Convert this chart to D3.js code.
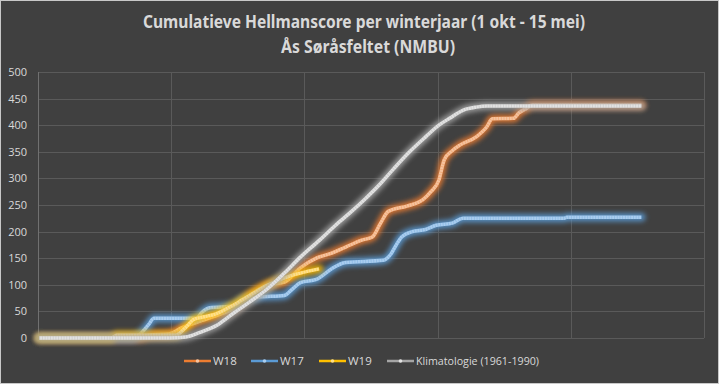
<!DOCTYPE html>
<html>
<head>
<meta charset="utf-8">
<title>Cumulatieve Hellmanscore</title>
<script src="https://cdn.jsdelivr.net/npm/d3@7"></script>
<style>
  body { margin: 0; background: #404040; }
  svg { display: block; }
</style>
</head>
<body>
<div id="chart"></div>
<script>
// day index (0 = 1 okt) and cumulative Hellman score
var w18Days = [0, 38, 41, 49, 53, 56, 61, 68, 74, 79, 82, 86, 92, 98, 104, 110, 115, 121, 125, 128, 131, 138, 144, 147, 150, 152, 155, 158, 164, 168, 170, 178, 180, 183, 185, 226];
var w18Vals = [0, 0, 5, 8, 18, 24, 33, 45, 58, 80, 90, 100, 105, 132, 150, 160, 171, 184, 190, 215, 238, 248, 260, 275, 297, 335, 352, 363, 378, 397, 412, 413, 423, 432, 438, 438];

var w17Days = [0, 35, 38, 41, 43, 59, 61, 64, 73, 76, 82, 92, 95, 98, 104, 107, 110, 115, 129, 132, 134, 136, 140, 145, 149, 155, 159, 197, 198, 226];
var w17Vals = [0, 0, 8, 25, 37, 37, 48, 57, 60, 72, 77, 80, 92, 104, 110, 120, 131, 142, 146, 158, 175, 190, 200, 204, 212, 216, 225, 225, 227, 227];

var w19Days = [0, 27, 29, 51, 55, 58, 62, 66, 73, 79, 86, 92, 98, 105];
var w19Vals = [0, 0, 5, 5, 20, 35, 40, 45, 62, 80, 100, 113, 122, 130];

var klimDays = [0, 49, 55, 60, 67, 73, 79, 86, 92, 98, 105, 111, 117, 122, 128, 133, 139, 145, 150, 154, 159, 164, 168, 226];
var klimVals = [0, 0, 2, 10, 25, 47, 68, 94, 122, 152, 183, 211, 237, 260, 290, 318, 350, 378, 400, 413, 428, 434, 436, 436];

var seriesNames = ["W18", "W17", "W19", "Klimatologie (1961-1990)"];
var seriesColors = ["#ed7d31", "#5b9bd5", "#ffc000", "#a5a5a5"];
var seriesCores = ["#f6c39e", "#a9cdef", "#ffe08a", "#e2e2e2"];
var yTicks = [0, 50, 100, 150, 200, 250, 300, 350, 400, 450, 500];
var xTicks = [0, 50, 100, 150, 200, 250];

var width = 719, height = 384;
var plotL = 38, plotR = 704, plotT = 72, plotB = 338;

var svg = d3.select("#chart").append("svg")
    .attr("width", width)
    .attr("height", height);

var defs = svg.append("defs");
defs.append("filter")
    .attr("id", "glow")
    .attr("x", "-20%").attr("y", "-20%")
    .attr("width", "140%").attr("height", "140%")
  .append("feGaussianBlur")
    .attr("stdDeviation", 2.4);

// background + thin border
svg.append("rect")
    .attr("x", 0.5).attr("y", 0.5)
    .attr("width", width - 1).attr("height", height - 1)
    .style("fill", "#404040")
    .style("stroke", "#c8c8c8")
    .style("stroke-width", 1);

// title
var titleFont = "'Noto Sans', 'DejaVu Sans', sans-serif";
svg.append("text")
    .attr("x", 364).attr("y", 28)
    .attr("text-anchor", "middle")
    .attr("textLength", 442)
    .attr("lengthAdjust", "spacingAndGlyphs")
    .style("font-family", titleFont)
    .style("font-weight", "bold")
    .style("font-size", "17px")
    .style("fill", "#d9d9d9")
    .text("Cumulatieve Hellmanscore per winterjaar (1 okt - 15 mei)");
svg.append("text")
    .attr("x", 368).attr("y", 53)
    .attr("text-anchor", "middle")
    .attr("textLength", 174)
    .attr("lengthAdjust", "spacingAndGlyphs")
    .style("font-family", titleFont)
    .style("font-weight", "bold")
    .style("font-size", "17px")
    .style("fill", "#d9d9d9")
    .text("Ås Søråsfeltet (NMBU)");

var xScale = d3.scaleLinear().domain([0, 250]).range([plotL, plotR]);
var yScale = d3.scaleLinear().domain([0, 500]).range([plotB, plotT]);

// horizontal gridlines + y labels
var yAxis = svg.append("g")
    .attr("transform", "translate(" + plotL + ",0)")
    .call(d3.axisLeft(yScale).tickValues(yTicks).tickSize(-(plotR - plotL)).tickPadding(11));
yAxis.select(".domain").remove();
yAxis.selectAll("line").style("stroke", "#5a5a5a").attr("shape-rendering", "crispEdges");
yAxis.selectAll("text")
    .style("font-family", "'Open Sans', sans-serif")
    .style("font-size", "11px")
    .style("fill", "#d9d9d9");

// vertical gridlines, no labels
var xAxis = svg.append("g")
    .attr("transform", "translate(0," + plotB + ")")
    .call(d3.axisBottom(xScale).tickValues(xTicks).tickSize(-(plotB - plotT)).tickFormat(""));
xAxis.select(".domain").remove();
xAxis.selectAll("line").style("stroke", "#5a5a5a").attr("shape-rendering", "crispEdges");
xAxis.select(".tick line").style("stroke", "#707070");

var line = d3.line()
    .x(function(d) { return xScale(d[0] + 0.5); })
    .y(function(d) { return yScale(d[1]); })
    .curve(d3.curveMonotoneX);

var allDays = [w18Days, w17Days, w19Days, klimDays];
var allVals = [w18Vals, w17Vals, w19Vals, klimVals];

for (var i = 0; i < 4; i++) {
  var pts = d3.zip(allDays[i], allVals[i]);
  var g = svg.append("g").attr("class", "series");
  g.append("path")
      .attr("d", line(pts))
      .attr("filter", "url(#glow)")
      .style("fill", "none")
      .style("stroke", seriesColors[i])
      .style("stroke-width", 8.5)
      .style("stroke-linecap", "round")
      .style("stroke-linejoin", "round")
      .style("opacity", 0.85);
  g.append("path")
      .attr("d", line(pts))
      .style("fill", "none")
      .style("stroke", seriesCores[i])
      .style("stroke-width", 3.5)
      .style("stroke-linejoin", "round");
  // marker texture
  g.append("path")
      .attr("d", line(pts))
      .style("fill", "none")
      .style("stroke", seriesColors[i])
      .style("stroke-width", 3.5)
      .style("stroke-dasharray", "0.8,1.9")
      .style("opacity", 0.35);
}

// legend
var legendX = [184, 251, 319, 387];
var legend = svg.append("g");
for (var j = 0; j < 4; j++) {
  var lg = legend.append("g").attr("transform", "translate(" + legendX[j] + ",361)");
  lg.append("line")
      .attr("x1", 0).attr("x2", 27)
      .attr("y1", 0).attr("y2", 0)
      .style("stroke", seriesColors[j])
      .style("stroke-width", 2.5);
  lg.append("circle")
      .attr("cx", 13.5).attr("cy", 0).attr("r", 1.8)
      .style("fill", seriesCores[j]);
  var t = lg.append("text")
      .attr("x", 29).attr("y", 4)
      .style("font-family", "'Open Sans', sans-serif")
      .style("font-size", "11.5px")
      .style("fill", "#d9d9d9")
      .text(seriesNames[j]);
  if (j == 3) t.attr("textLength", 123).attr("lengthAdjust", "spacingAndGlyphs");
}
</script>
</body>
</html>
